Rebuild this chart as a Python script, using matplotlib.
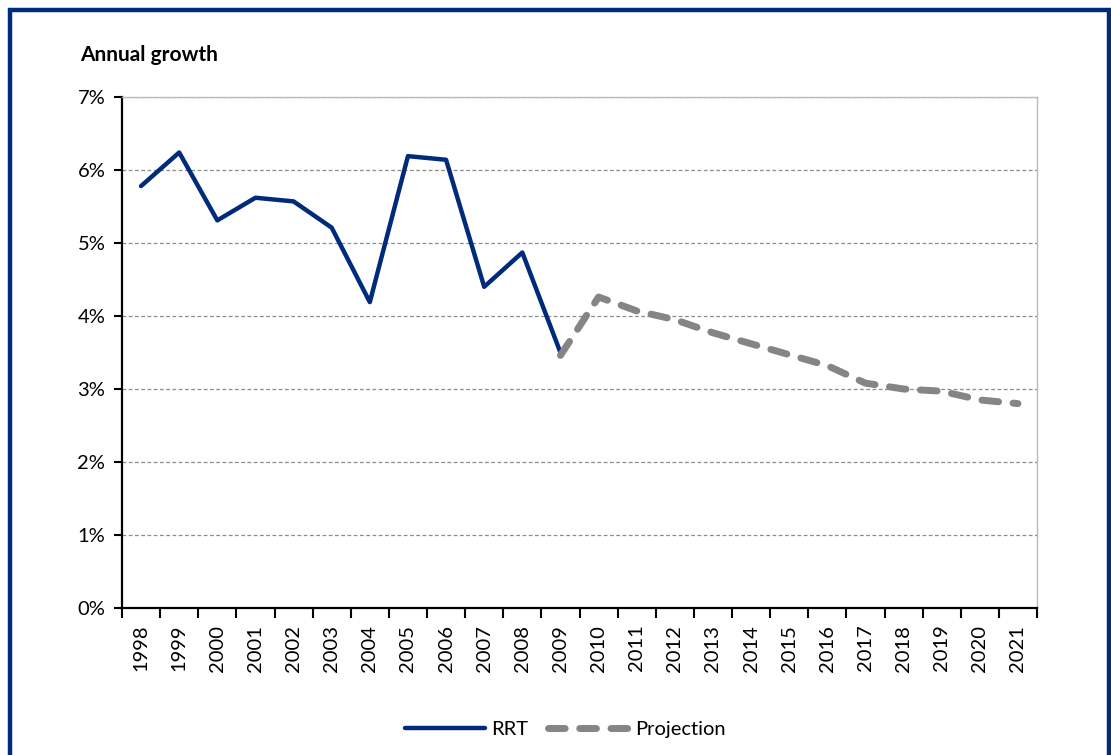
import matplotlib.pyplot as plt
from matplotlib.patches import Rectangle
from matplotlib.ticker import FixedLocator, PercentFormatter

years = list(range(1998, 2022))
rrt_years = list(range(1998, 2010))
rrt = [5.78, 6.24, 5.31, 5.62, 5.57, 5.21, 4.19, 6.19, 6.14, 4.40, 4.87, 3.50]
proj_years = list(range(2009, 2022))
proj = [3.46, 4.26, 4.07, 3.95, 3.77, 3.62, 3.47, 3.32, 3.08, 3.00, 2.97, 2.85, 2.80]

navy = "#002a7a"
grey = "#858585"

plt.rcParams["font.family"] = ["Lato", "DejaVu Sans"]

fig = plt.figure(figsize=(11.11, 7.55), dpi=100)
ax = fig.add_axes([122 / 1111, 1 - 608 / 755, (1037 - 122) / 1111, (608 - 97) / 755])

# outer frame
fig.patches.append(Rectangle((10 / 1111, -0.05), 1099 / 1111, 1.05 - 10 / 755,
                             transform=fig.transFigure, fill=False,
                             edgecolor=navy, linewidth=3.2))

xi = {y: i for i, y in enumerate(years)}
ax.plot([xi[y] for y in rrt_years], rrt, color=navy, lw=3.2,
        solid_capstyle="round", solid_joinstyle="round", label="RRT", zorder=3)
ax.plot([xi[y] for y in proj_years], proj, color=grey, lw=5.0,
        dashes=(2.4, 2.1), dash_capstyle="round", dash_joinstyle="round",
        label="Projection", zorder=3)

ax.set_xlim(-0.5, len(years) - 0.5)
ax.set_ylim(0, 7)
ax.xaxis.set_major_locator(FixedLocator([i - 0.5 for i in range(len(years) + 1)]))
ax.xaxis.set_minor_locator(FixedLocator(range(len(years))))
ax.set_xticklabels([])
ax.set_xticks(range(len(years)), [str(y) for y in years], minor=True, rotation=90, fontsize=14.5)
ax.tick_params(axis="x", which="minor", length=0, pad=12)
ax.tick_params(axis="x", which="major", length=7, width=1.5, direction="out", color="black")

ax.set_yticks(range(0, 8))
ax.yaxis.set_major_formatter(PercentFormatter(decimals=0))
ax.tick_params(axis="y", length=6, width=1.5, labelsize=14.5, pad=6)

ax.grid(axis="y", color="#8c8c8c", linestyle=(0, (3, 2)), lw=0.9)
ax.set_axisbelow(True)
for s in ["left", "bottom"]:
    ax.spines[s].set_linewidth(1.6)
    ax.spines[s].set_color("black")
for s in ["top", "right"]:
    ax.spines[s].set_linewidth(1.0)
    ax.spines[s].set_color("#bbbbbb")

fig.text(80 / 1111, 1 - 55 / 755, "Annual growth", fontsize=15, fontweight="bold",
         va="center", ha="left")

fig.legend(loc="center", bbox_to_anchor=(565 / 1111, 1 - 729 / 755), ncol=2,
           frameon=False, fontsize=14.5, handlelength=4.0, columnspacing=1.0,
           handletextpad=0.3)

fig.savefig("out.png", dpi=100)
